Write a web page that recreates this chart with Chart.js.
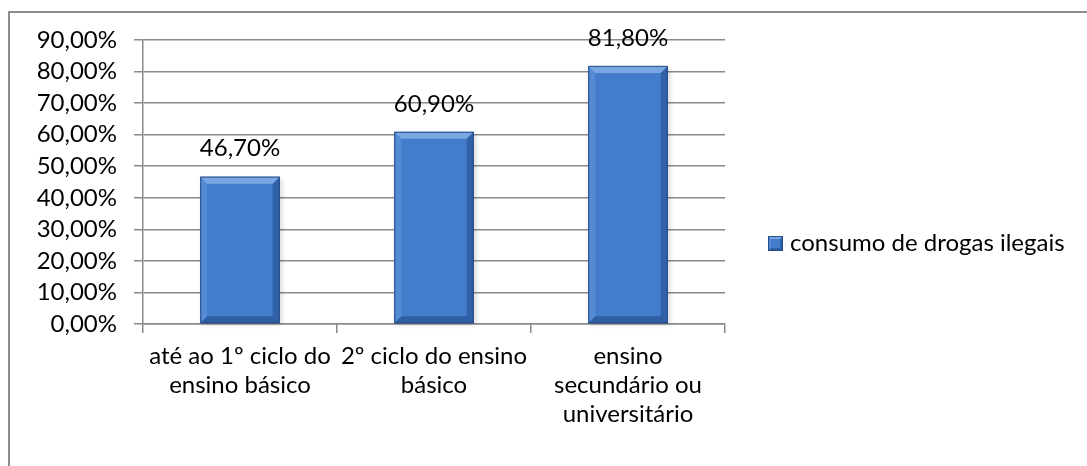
<!DOCTYPE html>
<html>
<head>
<meta charset="utf-8">
<script src="https://cdn.jsdelivr.net/npm/chart.js@4.4.0/dist/chart.umd.min.js"></script>
<style>
	html, body { margin: 0; padding: 0; background: #fff; overflow: hidden; }
	canvas { position: absolute; left: 0; top: 0; }
	#moldura { position: absolute; left: 8px; top: 11px; right: 0; bottom: 0; border-left: 2px solid #8c8c8c; border-top: 2px solid #8c8c8c; pointer-events: none; }
</style>
</head>
<body>
<canvas id="grafico" width="1087" height="466"></canvas>
<div id="moldura"></div>
<script>
const categorias = [
	['até ao 1º ciclo do', 'ensino básico'],
	['2º ciclo do ensino', 'básico'],
	['ensino', 'secundário ou', 'universitário']
];
const consumo = [46.7, 60.9, 81.8];
const nomeSerie = 'consumo de drogas ilegais';
const ticksY = [0, 10, 20, 30, 40, 50, 60, 70, 80, 90];

const cinza = '#8a8a8a';
const azul = 'rgb(66,124,203)';

function pct(v) {
	return v.toFixed(2).replace('.', ',') + '%';
}

// desenha as faces do bisel num retangulo
function biselar(ctx, l, t, r, bo, s) {
	const face = (pts, cor) => {
		ctx.beginPath();
		ctx.moveTo(pts[0][0], pts[0][1]);
		for (let k = 1; k < pts.length; k++) ctx.lineTo(pts[k][0], pts[k][1]);
		ctx.closePath();
		ctx.fillStyle = cor;
		ctx.fill();
	};
	face([[l, t], [r, t], [r - s, t + s], [l + s, t + s]], 'rgba(190,220,255,0.45)');
	face([[l, t], [l + s, t + s], [l + s, bo - s], [l, bo]], 'rgba(140,185,240,0.25)');
	face([[r, t], [r, bo], [r - s, bo - s], [r - s, t + s]], 'rgba(10,40,90,0.30)');
	face([[l, bo], [l + s, bo - s], [r - s, bo - s], [r, bo]], 'rgba(10,40,90,0.35)');
	ctx.strokeStyle = 'rgba(30,70,130,0.9)';
	ctx.lineWidth = 1;
	ctx.strokeRect(l + 0.5, t + 0.5, r - l - 1, bo - t - 1);
}

// sombra atras das barras
const sombra = {
	id: 'sombra',
	beforeDatasetsDraw(chart) {
		const ctx = chart.ctx;
		const meta = chart.getDatasetMeta(0);
		ctx.save();
		ctx.fillStyle = 'rgba(0,0,0,0.35)';
		ctx.shadowColor = 'rgba(0,0,0,0.45)';
		ctx.shadowBlur = 5;
		ctx.shadowOffsetX = 2;
		ctx.shadowOffsetY = 2;
		meta.data.forEach(b => {
			ctx.fillRect(b.x - b.width / 2, b.y, b.width, b.base - b.y);
		});
		ctx.restore();
	}
};

// bisel nas barras + rotulos de valor
const bisel = {
	id: 'bisel',
	afterDatasetsDraw(chart) {
		const ctx = chart.ctx;
		const meta = chart.getDatasetMeta(0);
		ctx.save();
		meta.data.forEach(b => {
			biselar(ctx, b.x - b.width / 2, b.y, b.x + b.width / 2, b.base, 7);
		});
		ctx.font = '24px Lato';
		ctx.fillStyle = '#000';
		ctx.textAlign = 'center';
		ctx.textBaseline = 'middle';
		meta.data.forEach((b, i) => {
			ctx.fillText(pct(consumo[i]), b.x, b.y - 28);
		});
		ctx.restore();
	}
};

// legenda a direita da area do grafico
const legenda = {
	id: 'legenda',
	afterDraw(chart) {
		const ctx = chart.ctx;
		const a = chart.chartArea;
		const x = a.right + 43;
		const y = (a.top + a.bottom) / 2 + 61;
		ctx.save();
		ctx.fillStyle = azul;
		ctx.fillRect(x, y - 7, 15, 15);
		biselar(ctx, x, y - 7, x + 15, y + 8, 3);
		ctx.font = '24px Lato';
		ctx.fillStyle = '#000';
		ctx.textAlign = 'left';
		ctx.textBaseline = 'middle';
		ctx.fillText(chart.data.datasets[0].label, x + 22, y);
		ctx.restore();
	}
};

Chart.defaults.font.family = 'Lato';
Chart.defaults.font.size = 24;
Chart.defaults.color = '#000';

const grafico = new Chart(document.getElementById('grafico'), {
	type: 'bar',
	data: {
		labels: categorias,
		datasets: [{
			label: nomeSerie,
			data: consumo,
			backgroundColor: azul,
			borderWidth: 0,
			categoryPercentage: 1,
			barPercentage: 0.41
		}]
	},
	options: {
		responsive: false,
		animation: false,
		layout: {
			padding: { top: 40, bottom: 30, left: 0, right: 362 }
		},
		scales: {
			x: {
				grid: { drawOnChartArea: false, drawTicks: true, tickLength: 9, color: cinza, lineWidth: 1.5, offset: true },
				border: { color: cinza, width: 1.5 },
				ticks: { padding: 9, maxRotation: 0, autoSkip: false, font: { size: 24, lineHeight: 1.2 } },
				afterFit: s => { s.height = 112; }
			},
			y: {
				min: 0,
				max: 90,
				afterBuildTicks: s => { s.ticks = ticksY.map(v => ({ value: v })); },
				grid: { color: cinza, lineWidth: 1.5, tickLength: 9 },
				border: { color: cinza, width: 1.5 },
				ticks: { padding: 17, autoSkip: false, callback: v => pct(v) },
				afterFit: s => { s.width = 143; }
			}
		},
		plugins: {
			legend: { display: false },
			tooltip: { enabled: false }
		}
	},
	plugins: [sombra, bisel, legenda]
});
</script>
</body>
</html>
